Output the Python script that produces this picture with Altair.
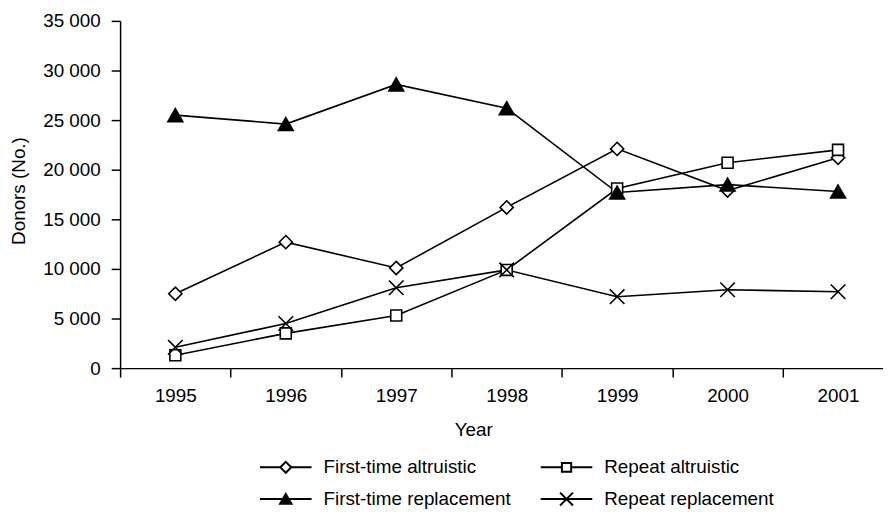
import altair as alt
import pandas as pd

years = [1995, 1996, 1997, 1998, 1999, 2000, 2001]
series_names = ["First-time altruistic", "Repeat altruistic",
                "First-time replacement", "Repeat replacement"]
first_time_altruistic = [7500, 12700, 10100, 16200, 22100, 17900, 21200]
repeat_altruistic = [1300, 3500, 5300, 9900, 18100, 20700, 22000]
first_time_replacement = [25500, 24600, 28600, 26200, 17700, 18500, 17800]
repeat_replacement = [2100, 4500, 8100, 9900, 7200, 7900, 7700]
y_ticks = [0, 5000, 10000, 15000, 20000, 25000, 30000, 35000]
x_ticks = [1994.5, 1995.5, 1996.5, 1997.5, 1998.5, 1999.5, 2000.5]

values = [first_time_altruistic, repeat_altruistic,
          first_time_replacement, repeat_replacement]
rows = []
for name, vals in zip(series_names, values):
    for yr, v in zip(years, vals):
        rows.append({"Year": yr, "series": name, "Donors": v})
df = pd.DataFrame(rows)

FONT = "Liberation Sans"

marker_paths = [
    "M0,-0.95L0.95,0L0,0.95L-0.95,0Z",
    "M-0.79,-0.79H0.79V0.79H-0.79Z",
    "M0,-0.93L1.07,0.93L-1.07,0.93Z",
    "M-1.05,-1.05L1.05,1.05M-1.05,1.05L1.05,-1.05",
]
# legend symbols: line + marker (solid triangle drawn as nested outlines)
legend_paths = [
    "M-1,0H-0.21M0.21,0H1M0,-0.21L0.21,0L0,0.21L-0.21,0Z",
    "M-1,0H-0.18M0.18,0H1M-0.18,-0.17H0.18V0.17H-0.18Z",
    "M-1,0H1"
    "M0,-0.2L0.22,0.18L-0.22,0.18Z"
    "M0,-0.137L0.165,0.148L-0.165,0.148Z"
    "M0,-0.073L0.11,0.117L-0.11,0.117Z"
    "M0,-0.01L0.055,0.085L-0.055,0.085Z"
    "M-0.02,0.06H0.02",
    "M-1,0H1M-0.25,-0.25L0.25,0.25M-0.25,0.25L0.25,-0.25",
]
fills = ["white", "white", "black", "white"]

x_enc = alt.X(
    "Year:Q",
    scale=alt.Scale(domain=[1994.5, 2001.407], nice=False, zero=False),
    axis=alt.Axis(
        values=x_ticks,
        labelExpr="format(datum.value + 0.5, 'd')",
        labelOffset=55.67,
        labelAlign="center",
        labelBaseline="alphabetic",
        labelPadding=25,
        labelOverlap=False,
        labelBound=False,
        labelFlush=False,
        title="Year",
        titleX=356,
        titleY=68,
        titleAlign="center",
        titleBaseline="alphabetic",
    ),
)
y_enc = alt.Y(
    "Donors:Q",
    scale=alt.Scale(domain=[0, 35000], nice=False),
    axis=alt.Axis(
        values=y_ticks,
        labelExpr="replace(format(datum.value, ','), ',', ' ')",
        labelPadding=11,
        title="Donors (No.)",
        titleAngle=270,
        titleX=-96,
        titleY=171,
        titleAlign="center",
        titleBaseline="alphabetic",
    ),
)

base = alt.Chart(df)

leg = alt.Legend(
    title=None, orient="none", legendX=140, legendY=440,
    direction="horizontal", columns=2, symbolSize=2704,
    symbolStrokeWidth=2,
    labelFontSize=19, labelFont=FONT, labelColor="black",
    labelOffset=11, labelLimit=400, columnPadding=29,
    rowPadding=12, clipHeight=20, padding=0,
)

# tiny outline marks (hidden under the real markers) that carry the legend
legend_layer = base.mark_point(
    filled=False, color="black", strokeWidth=2, size=1, opacity=1
).encode(
    x=x_enc,
    y=y_enc,
    shape=alt.Shape("series:N",
                    scale=alt.Scale(domain=series_names, range=legend_paths),
                    legend=leg),
)

lines = base.mark_line(color="black").encode(
    x=x_enc,
    y=y_enc,
    detail="series:N",
    strokeWidth=alt.StrokeWidth(
        "series:N",
        scale=alt.Scale(domain=series_names, range=[1.6, 1.6, 2, 1.6]),
        legend=None,
    ),
)

points = base.mark_point(
    filled=True, stroke="black", strokeWidth=1.6, size=196, opacity=1
).encode(
    x=x_enc,
    y=y_enc,
    shape=alt.Shape("series:N",
                    scale=alt.Scale(domain=series_names, range=marker_paths),
                    legend=None),
    fill=alt.Fill("series:N",
                  scale=alt.Scale(domain=series_names, range=fills),
                  legend=None),
)

chart = (
    alt.layer(legend_layer, lines, points)
    .resolve_scale(shape="independent")
    .properties(
        width=769,
        height=350,
        autosize=alt.AutoSizeParams(type="none"),
        padding={"left": 113, "top": 11, "right": 0, "bottom": 140},
        background="white",
    )
    .configure_view(stroke=None)
    .configure_axis(
        grid=False,
        domainColor="black",
        domainWidth=1.5,
        tickColor="black",
        tickWidth=1.5,
        tickSize=9,
        labelColor="black",
        labelFont=FONT,
        labelFontSize=19,
        titleColor="black",
        titleFont=FONT,
        titleFontSize=19,
        titleFontWeight="normal",
    )
)

chart.save("out.html", embed_options={"renderer": "svg", "actions": False})
